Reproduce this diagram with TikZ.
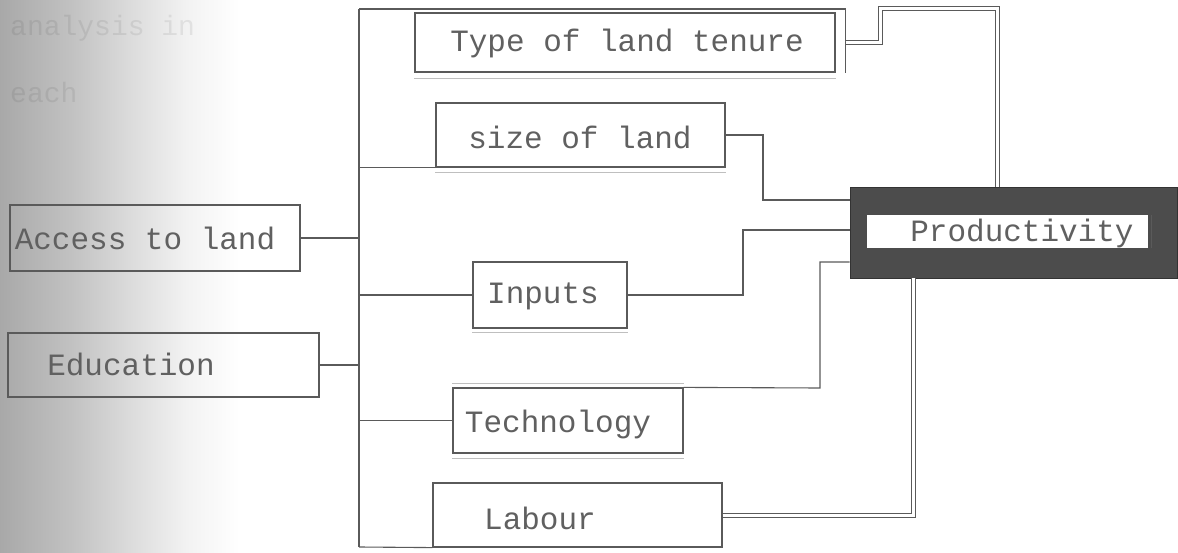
\documentclass[tikz,border=0pt]{standalone}
\usepackage{fontspec}
\newfontfamily\tw{Liberation Mono}
\definecolor{ink}{HTML}{5A5A5A}
\definecolor{txt}{HTML}{606060}
\definecolor{dark}{HTML}{4C4C4C}
\pgfdeclarehorizontalshading{scanedge}{100bp}{color(0bp)=(black!34); color(25bp)=(black!34); color(40bp)=(black!24); color(52bp)=(black!14); color(64bp)=(black!5); color(75bp)=(white); color(100bp)=(white)}
\begin{document}
\begin{tikzpicture}[x=1pt,y=-1pt,
  box/.style={draw=ink, line width=1.2pt, inner sep=0pt},
  lbl/.style={font=\tw\fontsize{31}{31}\selectfont, text=txt, inner sep=0pt},
  conn/.style={draw=ink, line width=1.1pt},
  twin/.style={draw=ink, line width=1pt, double=white, double distance=3pt},
  faint/.style={draw=black!25, line width=0.8pt}]
\useasboundingbox (0,0) rectangle (1178,553);
\fill[white] (0,0) rectangle (1178,553);
\shade[shading=scanedge] (0,0) rectangle (240,553);
% faint show-through text
\node[font=\tw\fontsize{28}{28}\selectfont, text=black, opacity=0.07, anchor=west, inner sep=0pt] (ghost1) at (10,28) {analysis in};
\node[font=\tw\fontsize{28}{28}\selectfont, text=black, opacity=0.07, anchor=west, inner sep=0pt] (ghost2) at (10,92) {each};

% bus
\coordinate (bt) at (359,9);
\coordinate (bb) at (359,547);
\draw[conn] (bt) -- (bb);

% boxes
\node[box, minimum width=420, minimum height=59] (ttl) at (625,42.5) {};
\node[lbl] (ttlt) at (627,43) {Type of land tenure};
\node[box, minimum width=289, minimum height=64] (size) at (580.5,135) {};
\node[lbl] (sizet) at (580,137) {size of land};
\node[box, minimum width=290, minimum height=66] (access) at (155,238) {};
\node[lbl] (accesst) at (145,238) {Access to land};
\node[box, minimum width=311, minimum height=64] (edu) at (163.5,365) {};
\node[lbl] (edut) at (131,364) {Education};
\node[box, minimum width=154, minimum height=66] (inputs) at (550,295) {};
\node[lbl] (inputst) at (543,296) {Inputs};
\node[box, minimum width=230, minimum height=65] (tech) at (568,420.5) {};
\node[lbl] (techt) at (558,424) {Technology};
\node[box, minimum width=289, minimum height=64] (labour) at (577.5,515) {};
\node[lbl] (labourt) at (540,518) {Labour};

% productivity
\node[fill=dark, draw=black!80, line width=0.8pt, minimum width=327, minimum height=91, inner sep=0pt] (prod) at (1013.5,232.5) {};
\node[fill=white, minimum width=281, minimum height=33, inner sep=0pt] (prodin) at (1007.5,231.5) {};
\node[lbl] (prodt) at (1022,233) {Productivity};
\draw[ink, line width=1pt] ([xshift=3]prodin.north east) -- ([xshift=3]prodin.south east);

% faint under-lines
\draw[faint] ([yshift=-6]ttl.south west) -- ([yshift=-6]ttl.south east);
\draw[faint] ([yshift=-5]size.south west) -- ([yshift=-5]size.south east);
\draw[faint] ([yshift=-4]inputs.south west) -- ([yshift=-4]inputs.south east);
\draw[faint] ([yshift=-5]tech.south west) -- ([yshift=-5]tech.south east);
\draw[faint] ([yshift=4]tech.north west) -- ([yshift=4]tech.north east);

% bus connections
\draw[conn] (bt) -- ([xshift=10]ttl.north east |- bt) -- ([xshift=10]ttl.south east);
\draw[conn] (ttl.north east) -- (ttl.south east);
\draw[conn] (bt |- size.south) -- (size.south west);
\draw[conn] (access.east) -- (access.east -| bt);
\draw[conn] (edu.east) -- (edu.east -| bt);
\draw[conn] (bt |- inputs.west) -- (inputs.west);
\draw[conn] (bt |- tech.west) -- (tech.west);
\draw[conn] (bb) -- (labour.south west);

% connections to productivity
\draw[twin] ([xshift=10]ttl.east) -| (880,9) -- (997,9) -- ([xshift=-16.5]prod.north);
\draw[conn] (size.east) -| (763,200) -- ([yshift=32.5]prod.west);
\draw[conn] (inputs.east) -| (743,230) -- ([yshift=2.5]prod.west);
\draw[conn] (tech.north east) -- (820,388) -- (820,262) -- ([yshift=-29.5]prod.west);
\draw[twin] (labour.east) -| ([xshift=-100.5]prod.south);
\end{tikzpicture}
\end{document}
